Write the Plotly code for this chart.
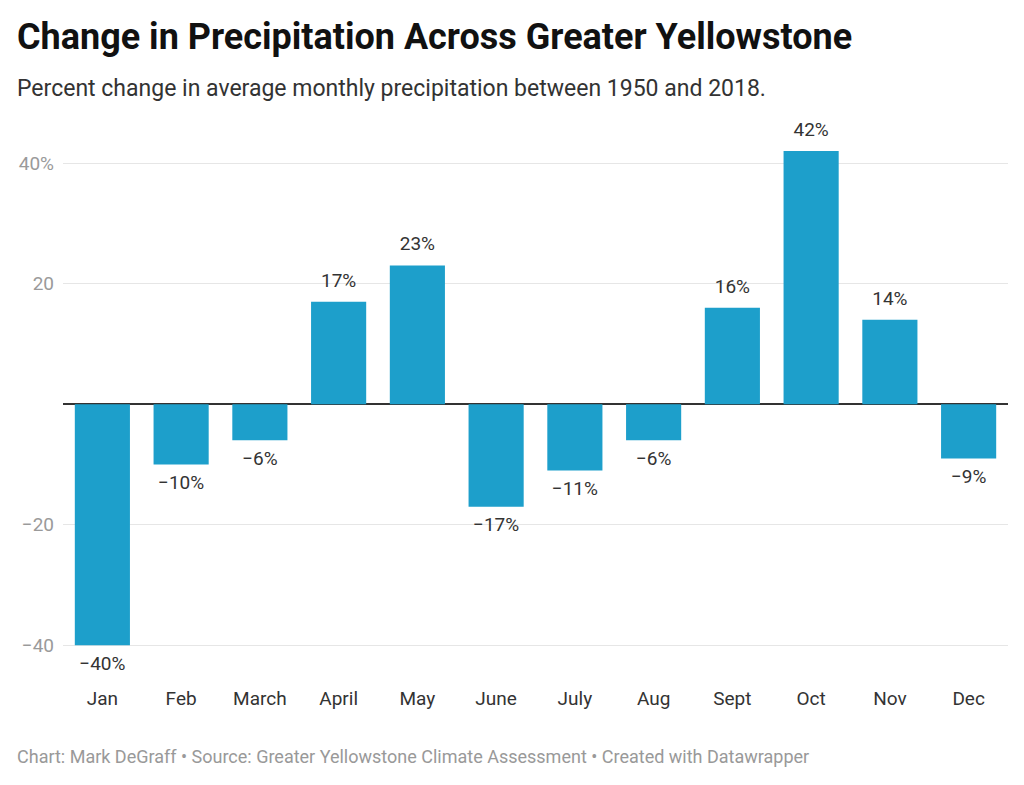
import plotly.graph_objects as go

months = ["Jan", "Feb", "March", "April", "May", "June", "July", "Aug", "Sept", "Oct", "Nov", "Dec"]
change_pct = [-40, -10, -6, 17, 23, -17, -11, -6, 16, 42, 14, -9]

tick_vals = [-40, -20, 20, 40]
tick_text = ["\u221240", "\u221220", "20", "40%"]

labels = [f"{v}%".replace("-", "\u2212") for v in change_pct]
label_pos = ["top center" if v >= 0 else "bottom center" for v in change_pct]

# the page adds an 8px body margin, so figure coords = screen coords - 8
W, H = 1024, 785
pl, pr, pt, pb = 55, 24, 119, 108
pw, ph = W - pl - pr, H - pt - pb


def px(x, y):
	return (x - 8 - pl) / pw, (H - pb - (y - 8)) / ph


fig = go.Figure()
fig.add_trace(go.Bar(
	x=months,
	y=change_pct,
	marker=dict(color="#1d9fcb", line=dict(width=0)),
	hoverinfo="skip",
))
# value labels, pushed off the bar ends by an invisible marker
fig.add_trace(go.Scatter(
	x=months,
	y=change_pct,
	mode="markers+text",
	marker=dict(size=15, color="rgba(0,0,0,0)"),
	text=labels,
	textposition=label_pos,
	textfont=dict(family="Roboto", size=19, color="#333333"),
	cliponaxis=False,
	hoverinfo="skip",
))

fig.update_layout(
	width=W,
	height=H,
	paper_bgcolor="white",
	plot_bgcolor="white",
	showlegend=False,
	bargap=0.3,
	margin=dict(l=pl, r=pr, t=pt, b=pb),
	font=dict(family="Roboto", color="#333333"),
)

for txt, x, y, size, color in [
	("<b>Change in Precipitation Across Greater Yellowstone</b>", 15, 37, 36, "#111111"),
	("Percent change in average monthly precipitation between 1950 and 2018.", 15, 88, 23, "#333333"),
	("Chart: Mark DeGraff \u2022 Source: Greater Yellowstone Climate Assessment \u2022 Created with Datawrapper", 15, 757, 18, "#999999"),
]:
	ax, ay = px(x, y)
	fig.add_annotation(text=txt, x=ax, y=ay, xref="paper", yref="paper", xanchor="left", yanchor="middle",
		showarrow=False, font=dict(family="Roboto", size=size, color=color))

fig.update_xaxes(
	range=[-0.5, len(months) - 0.5],
	showgrid=False,
	showline=False,
	ticks="",
	tickfont=dict(family="Roboto", size=19, color="#333333"),
)
fig.update_yaxes(
	range=[-46.6, 46],
	tickvals=tick_vals,
	ticktext=tick_text,
	tickfont=dict(family="Roboto", size=19, color="#9a9a9a"),
	showgrid=True,
	gridcolor="#e6e6e6",
	gridwidth=1,
	zeroline=True,
	zerolinecolor="#333333",
	zerolinewidth=1.5,
	showline=False,
	ticks="",
	ticklabelstandoff=8,
)

fig.write_html("out.html")
